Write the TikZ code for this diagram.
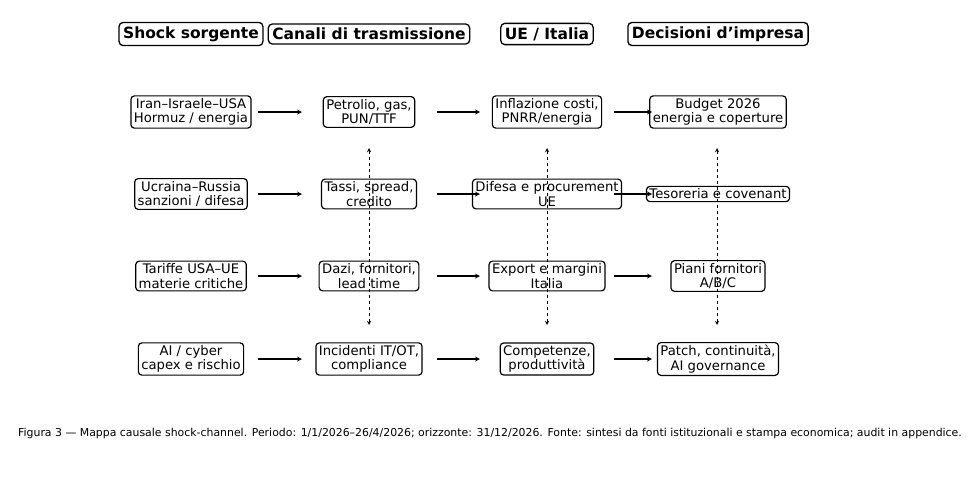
\documentclass[tikz,border=0pt]{standalone}
\usepackage{fontspec}
\setmainfont{DejaVu Sans}
\begin{document}
\begin{tikzpicture}[x=1pt,y=-1pt,
  box/.style={draw,rounded corners=3.5pt,line width=1.2pt,align=center,font=\fontsize{13.2}{14.5}\selectfont,inner xsep=3pt,inner ysep=2.5pt},
  hdr/.style={draw,rounded corners=4pt,line width=1.3pt,font=\bfseries\fontsize{15.5}{17}\selectfont,inner xsep=4pt,inner ysep=4pt},
  arr/.style={->,line width=1.2pt,>=stealth},
  darr/.style={<->,dashed,line width=0.9pt,>=stealth}]
\useasboundingbox (0,0) rectangle (980,482);
\node[hdr] (h1) at (191,34) {Shock sorgente};
\node[hdr] (h2) at (369,34) {Canali di trasmissione};
\node[hdr] (h3) at (547,34) {UE / Italia};
\node[hdr] (h4) at (718,34) {Decisioni d\symbol{39}impresa};
\node[box] (a1) at (191,112) {Iran–Israele–USA\\Hormuz / energia};
\node[box] (b1) at (369,112) {Petrolio, gas,\\PUN/TTF};
\node[box] (c1) at (547,112) {Inflazione costi,\\PNRR/energia};
\node[box] (d1) at (718,112) {Budget 2026\\energia e coperture};
\node[box] (a2) at (191,194) {Ucraina–Russia\\sanzioni / difesa};
\node[box] (b2) at (369,194) {Tassi, spread,\\credito};
\node[box] (c2) at (547,194) {Difesa e procurement\\UE};
\node[box] (d2) at (718,194) {Tesoreria e covenant};
\node[box] (a3) at (191,276) {Tariffe USA–UE\\materie critiche};
\node[box] (b3) at (369,276) {Dazi, fornitori,\\lead time};
\node[box] (c3) at (547,276) {Export e margini\\Italia};
\node[box] (d3) at (718,276) {Piani fornitori\\A/B/C};
\node[box] (a4) at (191,359) {AI / cyber\\capex e rischio};
\node[box] (b4) at (369,359) {Incidenti IT/OT,\\compliance};
\node[box] (c4) at (547,359) {Competenze,\\produttività};
\node[box] (d4) at (718,359) {Patch, continuità,\\AI governance};
\foreach \r/\y in {1/112,2/194,3/276,4/359}{
  \coordinate (s1\r) at (258,\y); \coordinate (e1\r) at (302,\y);
  \coordinate (s2\r) at (437,\y); \coordinate (e2\r) at (480,\y);
  \coordinate (s3\r) at (614,\y); \coordinate (e3\r) at (652,\y);
  \draw[arr] (s1\r) -- (e1\r);
  \draw[arr] (s2\r) -- (e2\r);
  \draw[arr] (s3\r) -- (e3\r);
}
\foreach \x [count=\i] in {369,547,717}{
  \coordinate (t\i) at (\x,148); \coordinate (u\i) at (\x,325);
  \draw[darr] (t\i) -- (u\i);
}
\node[font=\fontsize{10.9}{12}\selectfont] (cap) at (490,433) {Figura 3 — Mappa causale shock-channel. Periodo: 1/1/2026–26/4/2026; orizzonte: 31/12/2026. Fonte: sintesi da fonti istituzionali e stampa economica; audit in appendice.};
\end{tikzpicture}
\end{document}
